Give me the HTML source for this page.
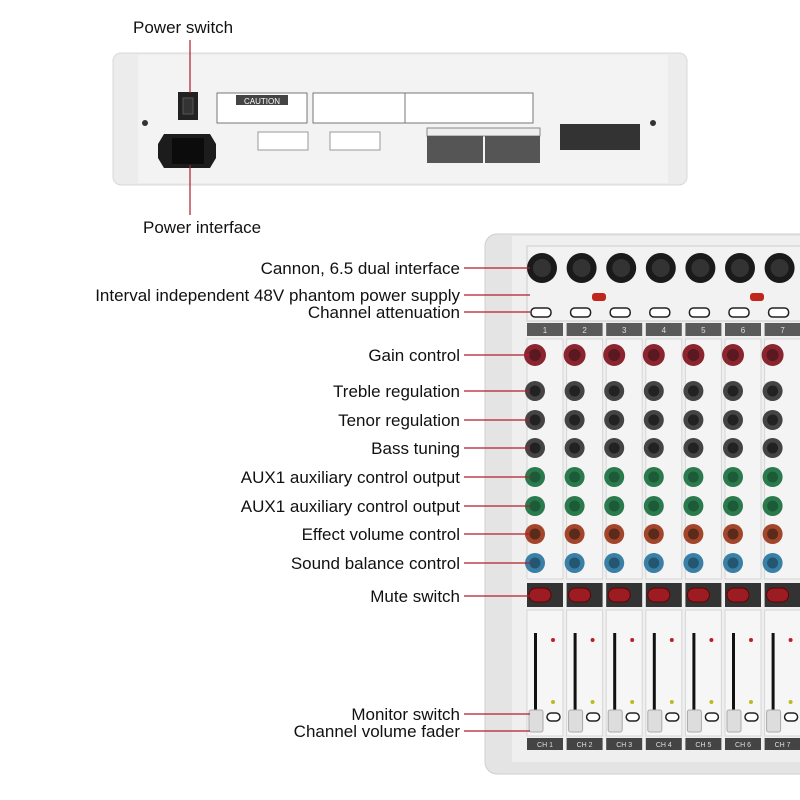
<!DOCTYPE html>
<html><head><meta charset="utf-8"><style>
html,body{margin:0;padding:0;background:#fff;width:800px;height:800px;overflow:hidden}
svg{display:block}
text{font-family:"Liberation Sans",Arial,sans-serif}
</style></head><body>
<svg id="s" width="800" height="800" viewBox="0 0 800 800" xmlns="http://www.w3.org/2000/svg">
<rect x="113" y="53" width="574" height="132" rx="8" fill="#ececec" stroke="#d8d8d8"/>
<rect x="138" y="55" width="530" height="128" fill="#f3f3f3"/>
<rect x="178" y="92" width="20" height="28" fill="#222"/>
<rect x="183" y="98" width="10" height="16" fill="#333" stroke="#555"/>
<circle cx="145" cy="123" r="3" fill="#333"/><circle cx="653" cy="123" r="3" fill="#333"/>
<path d="M164 134 h46 l6 10 v14 l-6 10 h-46 l-6 -10 v-14 z" fill="#1c1c1c"/>
<rect x="172" y="138" width="32" height="26" fill="#0c0c0c"/>
<rect x="217" y="93" width="90" height="30" fill="#fff" stroke="#777"/>
<rect x="236" y="95" width="52" height="10" fill="#444"/>
<text x="262" y="104" font-size="8" fill="#fff" text-anchor="middle">CAUTION</text>
<rect x="313" y="93" width="220" height="30" fill="#fff" stroke="#777"/>
<line x1="405" y1="93" x2="405" y2="123" stroke="#777"/>
<rect x="258" y="132" width="50" height="18" fill="#fff" stroke="#999"/>
<rect x="330" y="132" width="50" height="18" fill="#fff" stroke="#999"/>
<rect x="427" y="128" width="113" height="8" fill="#eee" stroke="#888"/>
<rect x="427" y="136" width="56" height="27" fill="#555"/>
<rect x="485" y="136" width="55" height="27" fill="#555"/>
<rect x="560" y="124" width="80" height="26" fill="#333"/>
<line x1="190" y1="40" x2="190" y2="93" stroke="#b01c2e" stroke-width="1.2"/>
<line x1="190" y1="165" x2="190" y2="215" stroke="#b01c2e" stroke-width="1.2"/>
<text x="133" y="33" font-size="17" fill="#111">Power switch</text>
<text x="143" y="233" font-size="17" fill="#111">Power interface</text>
<rect x="485" y="234" width="330" height="540" rx="12" fill="#e4e4e4" stroke="#cfcfcf"/>
<rect x="512" y="236" width="300" height="526" fill="#efefef"/>
<rect x="527" y="246" width="280" height="75" fill="#f2f2f2" stroke="#ccc"/>
<g id="ch"></g>
<g id="lab"></g>
</svg>
<script>
var ch=document.getElementById('ch'),lab=document.getElementById('lab'),h='';
function c(x,y,r,f,s){return '<circle cx="'+x+'" cy="'+y+'" r="'+r+'" fill="'+f+'"'+(s?' stroke="'+s+'"':'')+'/>';}
for(var i=0;i<7;i++){
 var x=535+39.6*i;
 h+=c(x+7,268,15,'#1a1a1a')+c(x+7,268,9,'#333');
 h+='<rect x="'+(x-4)+'" y="308" width="20" height="9" rx="4" fill="#fff" stroke="#222" stroke-width="1.5"/>';
 h+='<rect x="'+(x-8)+'" y="323" width="36" height="13" fill="#5a5a5a"/><text x="'+(x+10)+'" y="333" font-size="8" fill="#ddd" text-anchor="middle">'+(i+1)+'</text>';
 h+='<rect x="'+(x-8)+'" y="339" width="36" height="240" fill="#f4f4f4" stroke="#d6d6d6"/>';
 h+=c(x,355,11,'#8a2530')+c(x,355,6,'#5a1820');
 [391,420,448].forEach(function(y){h+=c(x,y,10,'#444')+c(x,y,5.5,'#222');});
 [477,506].forEach(function(y){h+=c(x,y,10,'#2b7a4d')+c(x,y,5.5,'#1d5a38');});
 h+=c(x,534,10,'#a3452a')+c(x,534,5.5,'#5a2a1a');
 h+=c(x,563,10,'#3a7fa6')+c(x,563,5.5,'#245670');
 h+='<rect x="'+(x-8)+'" y="583" width="36" height="24" fill="#333"/><rect x="'+(x-6)+'" y="588" width="22" height="14" rx="7" fill="#9c1c24" stroke="#600"/>';
 h+='<rect x="'+(x-8)+'" y="610" width="36" height="126" fill="#f6f6f6" stroke="#d6d6d6"/>';
 h+='<rect x="'+(x-1)+'" y="633" width="3" height="80" fill="#111"/>';
 h+='<rect x="'+(x-6)+'" y="710" width="14" height="22" rx="2" fill="#ddd" stroke="#aaa"/>';
 h+='<rect x="'+(x+12)+'" y="713" width="13" height="8" rx="4" fill="#fff" stroke="#222" stroke-width="1.5"/>';
 h+=c(x+18,640,2,'#b22')+c(x+18,702,2,'#bb2');
 h+='<rect x="'+(x-8)+'" y="738" width="36" height="12" fill="#444"/><text x="'+(x+10)+'" y="747" font-size="7" fill="#ddd" text-anchor="middle">CH '+(i+1)+'</text>';
}
h+='<rect x="592" y="293" width="14" height="8" rx="3" fill="#c0261c"/><rect x="750" y="293" width="14" height="8" rx="3" fill="#c0261c"/>';
ch.innerHTML=h;
var L=[["Cannon, 6.5 dual interface",268],["Interval independent 48V phantom power supply",295],["Channel attenuation",312],["Gain control",355],["Treble regulation",391],["Tenor regulation",420],["Bass tuning",448],["AUX1 auxiliary control output",477],["AUX1 auxiliary control output",506],["Effect volume control",534],["Sound balance control",563],["Mute switch",596],["Monitor switch",714],["Channel volume fader",731]];
var g='';
L.forEach(function(a){g+='<text x="460" y="'+(a[1]+6)+'" font-size="17" fill="#111" text-anchor="end">'+a[0]+'</text><line x1="464" y1="'+a[1]+'" x2="530" y2="'+a[1]+'" stroke="#b01c2e" stroke-width="1.2"/>';});
lab.innerHTML=g;
</script>
</body></html>
